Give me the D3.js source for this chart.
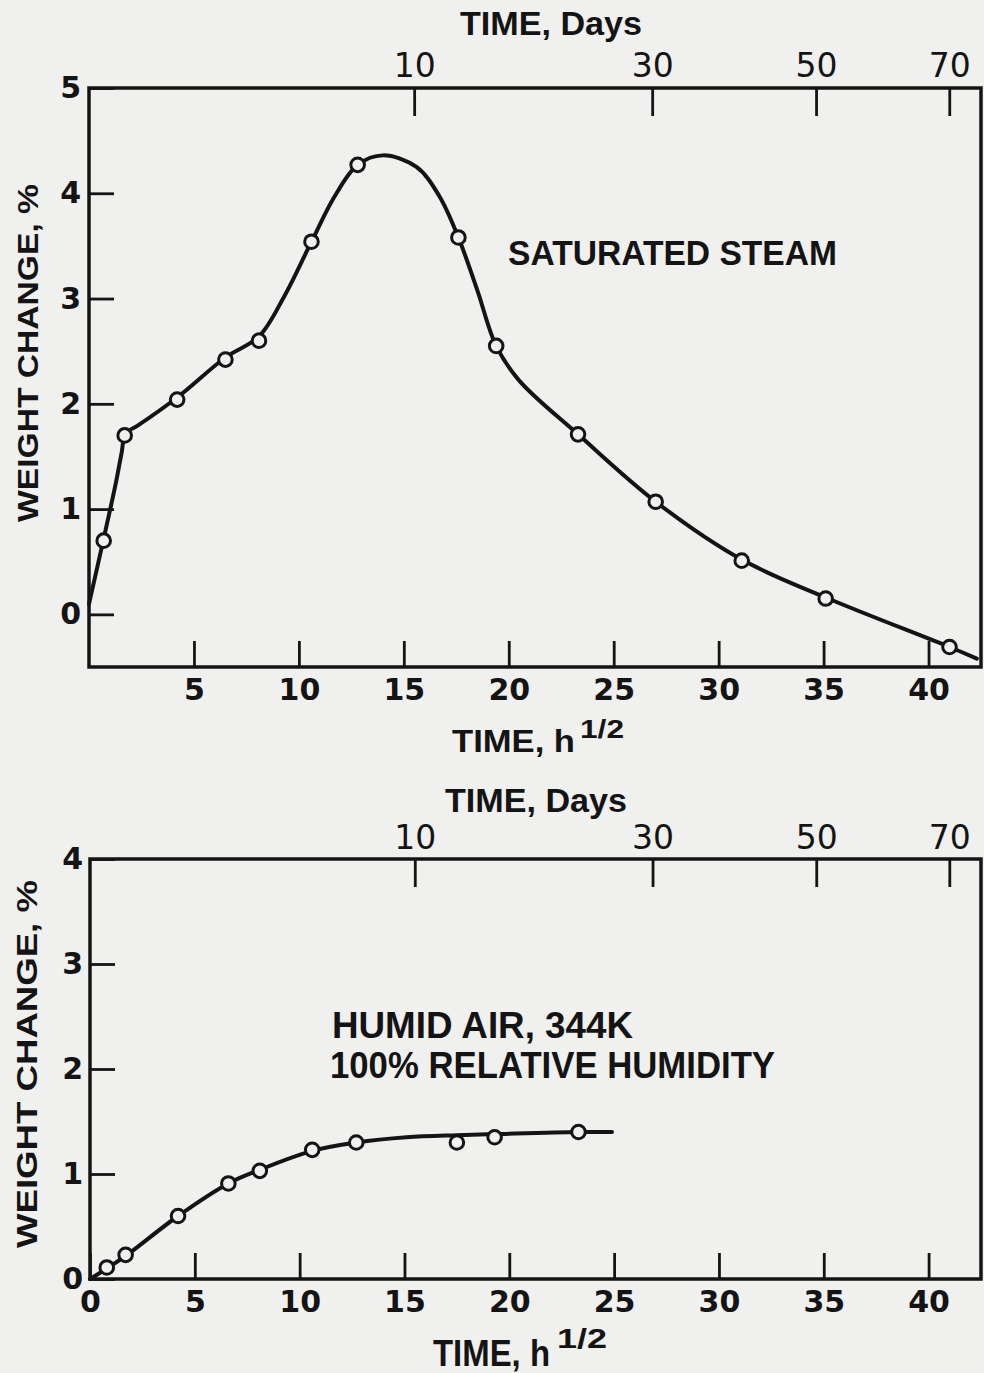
<!DOCTYPE html>
<html>
<head>
<meta charset="utf-8">
<script src="https://cdn.jsdelivr.net/npm/d3@7"></script>
<style>
  body { margin: 0; background: #f0f0ee; }
</style>
</head>
<body>
<svg id="chart"></svg>
<script>
// ---- data ----
// x values are TIME in h^1/2, y values are WEIGHT CHANGE in %
const steamX = [0.7, 1.7, 4.2, 6.5, 8.1, 10.6, 12.8, 17.6, 19.4, 23.3, 27.0, 31.1, 35.1, 41.0];
const steamY = [0.70, 1.70, 2.04, 2.42, 2.60, 3.54, 4.27, 3.58, 2.55, 1.71, 1.07, 0.51, 0.15, -0.31];
// hand-drawn curve through the steam points
const steamCurveX = [0, 0.7, 1.25, 1.55, 1.75, 2.3, 4.2, 6.5, 8.1, 9.3, 10.6, 11.7, 12.8, 14.0, 15.6, 16.7, 17.6, 18.5, 19.4, 20.5, 23.3, 27.0, 31.1, 35.1, 41.0, 42.3];
const steamCurveY = [0.10, 0.72, 1.22, 1.53, 1.72, 1.79, 2.06, 2.44, 2.64, 3.02, 3.54, 3.97, 4.27, 4.36, 4.25, 3.97, 3.58, 3.08, 2.55, 2.22, 1.71, 1.07, 0.52, 0.16, -0.31, -0.42];

const humidX = [0.8, 1.7, 4.2, 6.6, 8.1, 10.6, 12.7, 17.5, 19.3, 23.3];
const humidY = [0.11, 0.23, 0.60, 0.91, 1.03, 1.23, 1.30, 1.30, 1.35, 1.40];
const humidCurveX = [0, 0.8, 1.7, 4.2, 6.6, 8.1, 10.6, 12.7, 15.1, 17.5, 19.3, 23.3, 24.9];
const humidCurveY = [0, 0.10, 0.22, 0.60, 0.91, 1.04, 1.22, 1.30, 1.35, 1.37, 1.38, 1.40, 1.40];

const hourDomain = [0, 42.5];
const steamHourTicks = [5, 10, 15, 20, 25, 30, 35, 40];
const humidHourTicks = [0, 5, 10, 15, 20, 25, 30, 35, 40];
const dayTicks = [10, 30, 50, 70];
const steamYTicks = [0, 1, 2, 3, 4, 5];
const humidYTicks = [0, 1, 2, 3, 4];

const ink = '#141414';
const paper = '#f0f0ee';
const W = 984, H = 1373;

const svg = d3.select('#chart').attr('width', W).attr('height', H);
svg.append('rect').attr('width', W).attr('height', H).attr('fill', paper);

// plain bold lettering, squeezed/stretched to the width of the original
function label(g, str, opts) {
  const t = g.append('text')
    .attr('x', opts.x || 0)
    .attr('y', opts.y || 0)
    .attr('font-family', "'Liberation Sans', Arial, sans-serif")
    .attr('font-weight', 'bold')
    .attr('font-size', opts.size)
    .attr('fill', ink)
    .attr('text-anchor', opts.anchor || 'start')
    .text(str);
  if (opts.len) t.attr('textLength', opts.len).attr('lengthAdjust', 'spacingAndGlyphs');
  if (opts.transform) t.attr('transform', opts.transform);
  return t;
}

function styleAxis(sel, family, weight, size) {
  sel.attr('color', ink)
    .attr('font-family', family)
    .attr('font-weight', weight)
    .attr('font-size', size);
  sel.select('.domain').remove();
  sel.selectAll('.tick line').attr('stroke-width', 2.8);
}

function drawPanel(p) {
  const x = d3.scaleLinear().domain(hourDomain).range([p.left, p.right]);
  const y = d3.scaleLinear().domain(p.yDomain).range([p.bottom, p.top]);
  // days axis: h^1/2 = sqrt(24 * days)
  const xDays = d3.scalePow().exponent(0.5)
    .domain([0, hourDomain[1] * hourDomain[1] / 24])
    .range([p.left, p.right]);

  const g = svg.append('g');

  // left axis
  g.append('g')
    .attr('transform', `translate(${p.left},0)`)
    .call(d3.axisLeft(y).tickValues(p.yTicks).tickSize(-25).tickPadding(p.yPad).tickFormat(d3.format('d')))
    .call(s => styleAxis(s, "'DejaVu Sans', sans-serif", 'bold', 30));

  // bottom axis (h^1/2)
  g.append('g')
    .attr('transform', `translate(0,${p.bottom})`)
    .call(d3.axisBottom(x).tickValues(p.xTicks).tickSize(-26).tickPadding(12).tickFormat(d3.format('d')))
    .call(s => styleAxis(s, "'DejaVu Sans', sans-serif", 'bold', 30));

  // top axis (days)
  g.append('g')
    .attr('transform', `translate(0,${p.top})`)
    .call(d3.axisTop(xDays).tickValues(dayTicks).tickSize(-28).tickPadding(p.topPad).tickFormat(d3.format('d')))
    .call(s => styleAxis(s, "'DejaVu Sans', sans-serif", 'normal', 33));

  // frame
  g.append('rect')
    .attr('x', p.left).attr('y', p.top)
    .attr('width', p.right - p.left).attr('height', p.bottom - p.top)
    .attr('fill', 'none').attr('stroke', ink).attr('stroke-width', 3.5);

  // fitted curve
  const curve = p.curveX.map((v, i) => [v, p.curveY[i]]);
  g.append('path')
    .datum(curve)
    .attr('fill', 'none')
    .attr('stroke', ink)
    .attr('stroke-width', 4)
    .attr('stroke-linejoin', 'round')
    .attr('stroke-linecap', 'round')
    .attr('d', d3.line().x(d => x(d[0])).y(d => y(d[1])).curve(d3.curveCatmullRom.alpha(0.5)));

  // data points
  const pts = p.ptX.map((v, i) => [v, p.ptY[i]]);
  g.append('g').selectAll('circle')
    .data(pts)
    .join('circle')
    .attr('cx', d => x(d[0]))
    .attr('cy', d => y(d[1]))
    .attr('r', 6.8)
    .attr('fill', paper)
    .attr('stroke', ink)
    .attr('stroke-width', 3);

  // titles
  const t = p.text;
  label(g, 'TIME, Days', { x: t.days[0], y: t.days[1], size: 33, len: 182 });
  label(g, 'TIME, h', { x: t.hours[0], y: t.hours[1], size: t.hours[2], len: t.hours[3] });
  label(g, '1/2', { x: t.sup[0], y: t.sup[1], size: t.sup[2], len: t.sup[3] });
  label(g, 'WEIGHT CHANGE, %', {
    size: 30, len: t.yTitle[2], anchor: 'middle',
    transform: `translate(${t.yTitle[0]},${t.yTitle[1]}) rotate(-90)`
  });
  t.notes.forEach(n => label(g, n[0], { x: n[1], y: n[2], size: n[3], len: n[4] }));
}

drawPanel({
  left: 89, right: 981, top: 88, bottom: 667,
  yDomain: [-0.5, 5], yTicks: steamYTicks, xTicks: steamHourTicks,
  yPad: 8, topPad: 11,
  curveX: steamCurveX, curveY: steamCurveY, ptX: steamX, ptY: steamY,
  text: {
    days: [460, 35],
    hours: [452, 752, 31, 123],
    sup: [580, 738, 25, 44],
    yTitle: [38, 353, 338],
    notes: [['SATURATED STEAM', 508, 265, 35, 329]]
  }
});

drawPanel({
  left: 90, right: 981, top: 859, bottom: 1279,
  yDomain: [0, 4], yTicks: humidYTicks, xTicks: humidHourTicks,
  yPad: 7, topPad: 10,
  curveX: humidCurveX, curveY: humidCurveY, ptX: humidX, ptY: humidY,
  text: {
    days: [445, 812],
    hours: [433, 1366, 36, 117],
    sup: [557, 1348, 27, 50],
    yTitle: [37, 1064, 368],
    notes: [
      ['HUMID AIR, 344K', 332, 1038, 37, 301],
      ['100% RELATIVE HUMIDITY', 330, 1078, 37, 445]
    ]
  }
});
</script>
</body>
</html>
